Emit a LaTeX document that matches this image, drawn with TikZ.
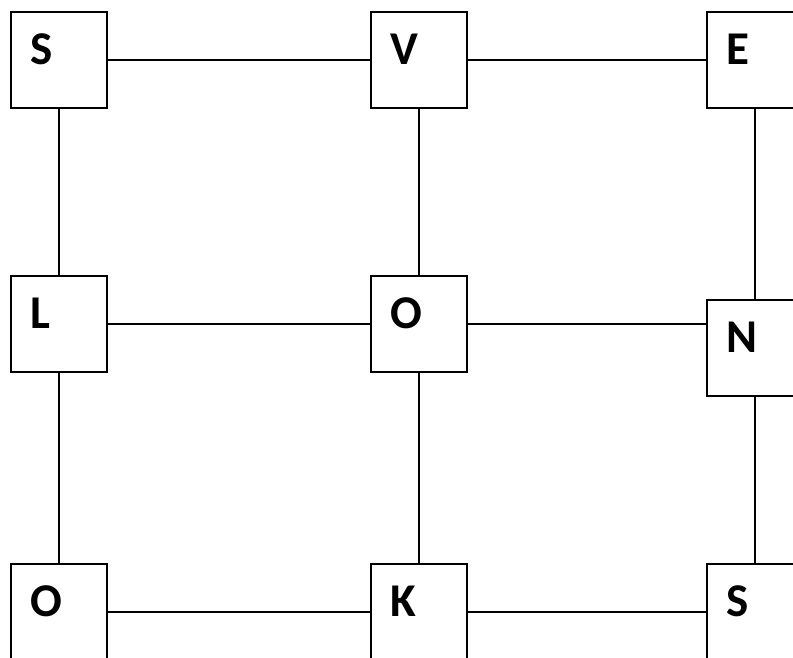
\documentclass[tikz,border=0pt]{standalone}
\usepackage{fontspec}
\setmainfont{Carlito}
\usetikzlibrary{positioning}

\tikzset{
  cell/.style={draw, line width=1.8pt, minimum size=96pt, inner sep=0pt},
  letter/.style={font=\fontsize{47}{47}\selectfont\bfseries, inner sep=0pt, anchor=base west},
  wire/.style={line width=1.6pt}
}

\begin{document}
\begin{tikzpicture}[x=1pt, y=-1pt]
    \clip (0,0) rectangle (793,657);

    % Draw the boxes
    \node[cell] (s1) at (59,60)   {};
    \node[cell] (v1) at (419,60)  {};
    \node[cell] (e1) at (755,60)  {};
    \node[cell] (l2) at (59,324)  {};
    \node[cell] (o2) at (419,324) {};
    \node[cell] (n2) at (755,348) {};
    \node[cell] (o3) at (59,612)  {};
    \node[cell] (k3) at (419,612) {};
    \node[cell] (s3) at (755,612) {};

    % Letters in the upper left of each box
    \node[letter] at ([shift={(20,53)}]s1.north west) {S};
    \node[letter] at ([shift={(20,53)}]v1.north west) {V};
    \node[letter] at ([shift={(20,53)}]e1.north west) {E};
    \node[letter] at ([shift={(20,53)}]l2.north west) {L};
    \node[letter] at ([shift={(20,53)}]o2.north west) {O};
    \node[letter] at ([shift={(20,53)}]n2.north west) {N};
    \node[letter] at ([shift={(20,53)}]o3.north west) {O};
    \node[letter] at ([shift={(20,53)}]k3.north west) {K};
    \node[letter] at ([shift={(20,53)}]s3.north west) {S};

    % Horizontal links
    \draw[wire] (s1) -- (v1);
    \draw[wire] (v1) -- (e1);
    \draw[wire] (l2) -- (o2);
    \draw[wire] (o2.east) -- (o2.east -| n2.west);
    \draw[wire] (o3) -- (k3);
    \draw[wire] (k3) -- (s3);

    % Vertical links
    \draw[wire] (s1) -- (l2);
    \draw[wire] (l2) -- (o3);
    \draw[wire] (v1) -- (o2);
    \draw[wire] (o2) -- (k3);
    \draw[wire] (e1) -- (n2);
    \draw[wire] (n2) -- (s3);
\end{tikzpicture}
\end{document}
